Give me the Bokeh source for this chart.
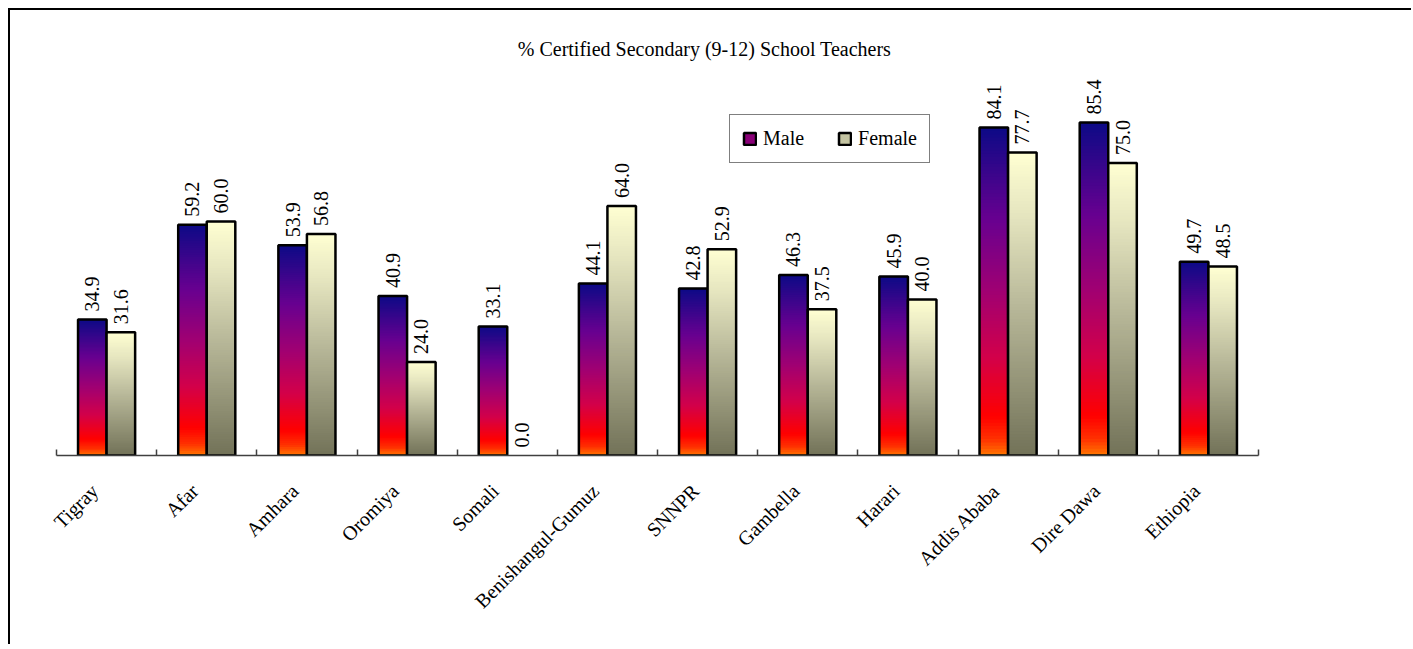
import numpy as np
from bokeh.plotting import figure
from bokeh.models import ColumnDataSource, FixedTicker, Range1d, Legend, LegendItem, Label
from bokeh.core.properties import value
from bokeh.embed import file_html
from bokeh.resources import INLINE

# ---- data ----
categories = ["Tigray", "Afar", "Amhara", "Oromiya", "Somali", "Benishangul-Gumuz",
              "SNNPR", "Gambella", "Harari", "Addis Ababa", "Dire Dawa", "Ethiopia"]
male = [34.9, 59.2, 53.9, 40.9, 33.1, 44.1, 42.8, 46.3, 45.9, 84.1, 85.4, 49.7]
female = [31.6, 60.0, 56.8, 24.0, 0.0, 64.0, 52.9, 37.5, 40.0, 77.7, 75.0, 48.5]
series_names = ["Male", "Female"]
title_text = "% Certified Secondary (9-12) School Teachers"

# ---- style ----
FONT = "Liberation Serif"
N = 100
BAR_W = 0.285
W, H = 1403, 636
FRAME_W, FRAME_H = 1202, 425
LEFT, TOP = 46, 20
Y_END = 109
px_per_x = FRAME_W / 12
LABEL_SHIFT = 12 / px_per_x

male_stops = [(0.0, "#ff7800"), (0.05, "#ff3000"), (0.12, "#ff0000"), (0.30, "#d2004a"),
              (0.50, "#a00072"), (0.72, "#680090"), (1.0, "#0c0a86")]
female_stops = [(0.0, "#727258"), (0.5, "#b9b99a"), (0.8, "#e6e6c0"), (1.0, "#ffffd2")]


def hex2rgb(h):
    return np.array([int(h[i:i + 2], 16) for i in (1, 3, 5)], dtype=float)


def grad(stops, t):
    for (t0, c0), (t1, c1) in zip(stops[:-1], stops[1:]):
        if t <= t1:
            f = (t - t0) / (t1 - t0)
            c = hex2rgb(c0) * (1 - f) + hex2rgb(c1) * f
            return "#%02x%02x%02x" % tuple(int(round(v)) for v in c)
    return stops[-1][1]


def slices(vals, offset, stops):
    xs, bots, tops, cols = [], [], [], []
    for i, v in enumerate(vals):
        if v <= 0:
            continue
        for k in range(N):
            xs.append(i + 0.5 + offset)
            bots.append(v * k / N)
            tops.append(min(v, v * (k + 1.8) / N))
            cols.append(grad(stops, (k + 0.5) / N))
    return ColumnDataSource(dict(x=xs, bottom=bots, top=tops, color=cols))


p = figure(width=W, height=H, x_range=Range1d(0, 12), y_range=Range1d(0, Y_END),
           output_backend="svg", toolbar_location=None,
           min_border_left=LEFT, min_border_right=W - LEFT - FRAME_W,
           min_border_top=TOP, min_border_bottom=H - TOP - FRAME_H)
p.title.visible = False
p.outline_line_color = None
p.xgrid.visible = False
p.ygrid.visible = False
p.yaxis.visible = False
p.styles = {"border-left": "2px solid #000", "border-top": "2px solid #000",
            "margin-left": "8px", "margin-top": "8px"}

offsets = [-BAR_W / 2, BAR_W / 2]
stops_list = [male_stops, female_stops]
legend_cols = ["#8a0078", "#c4c4a2"]
legend_items = []
for vals, off, stops, name, lc in zip([male, female], offsets, stops_list, series_names, legend_cols):
    src = slices(vals, off, stops)
    p.vbar(x="x", bottom="bottom", top="top", width=BAR_W, fill_color="color",
           line_color=None, source=src)
    osrc = ColumnDataSource(dict(x=[i + 0.5 + off for i in range(len(vals))],
                                 top=vals, lab=["%.1f" % v for v in vals]))
    nz = ColumnDataSource(dict(x=[i + 0.5 + off for i, v in enumerate(vals) if v > 0],
                               top=[v for v in vals if v > 0]))
    p.vbar(x="x", top="top", bottom=0, width=BAR_W, fill_alpha=0,
           line_color="black", line_width=2.5, source=nz)
    p.text(x="x", y="top", text="lab", source=osrc, angle=np.pi / 2,
           text_align="left", text_baseline="middle", y_offset=-8,
           text_font=value(FONT), text_font_size="20px", text_color="black")
    dummy = p.vbar(x=[np.nan], top=[np.nan], width=BAR_W, fill_color=lc,
                   line_color="black", line_width=2.5)
    legend_items.append(LegendItem(label=name, renderers=[dummy]))

legend = Legend(items=legend_items, orientation="horizontal", location=(673, 292),
                border_line_color="black", border_line_width=1,
                label_text_font=FONT, label_text_font_size="20px", label_text_color="black",
                glyph_width=15, glyph_height=15, label_standoff=6, spacing=33,
                padding=12, margin=0, background_fill_alpha=1)
p.add_layout(legend, "center")

ax = p.xaxis[0]
major_pos = [i + 0.5 - LABEL_SHIFT for i in range(len(categories))]
ax.ticker = FixedTicker(ticks=major_pos, minor_ticks=list(range(len(categories) + 1)))
ax.major_label_overrides = {t: c for t, c in zip(major_pos, categories)}
ax.major_label_orientation = np.pi / 4
ax.major_tick_in = 0
ax.major_tick_out = 0
ax.minor_tick_in = 6
ax.minor_tick_out = 0
ax.minor_tick_line_color = "#404040"
ax.minor_tick_line_width = 1.5
ax.axis_line_color = "#404040"
ax.axis_line_width = 1.5
ax.major_label_text_font = FONT
ax.major_label_text_font_size = "20px"
ax.major_label_text_color = "black"
ax.major_label_standoff = 32

title_lbl = Label(x=(704 - 56) / px_per_x, y=Y_END * (FRAME_H - 18) / FRAME_H,
                  text=title_text, text_align="center", text_baseline="alphabetic",
                  text_font=FONT, text_font_size="20px", text_color="black")
p.add_layout(title_lbl)

open("out.html", "w").write(file_html(p, INLINE))
